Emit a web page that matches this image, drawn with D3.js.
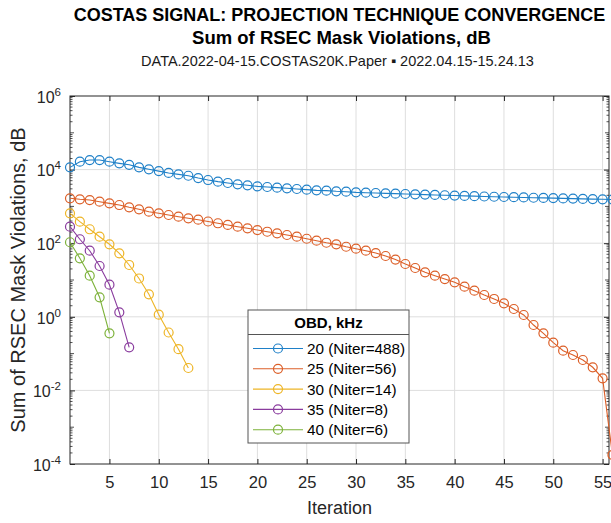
<!DOCTYPE html>
<html><head><meta charset="utf-8">
<script src="https://cdn.jsdelivr.net/npm/d3@7"></script>
<style>
html,body{margin:0;padding:0;background:#fff;}
svg{display:block;font-family:"Liberation Sans",Arial,sans-serif;}
</style></head>
<body><svg id="chart" width="611" height="523"></svg>
<script>
// ---------- data ----------
const seriesNames = ["20 (Niter=488)","25 (Niter=56)","30 (Niter=14)","35 (Niter=8)","40 (Niter=6)"];
const seriesColors = ["#1f80c8","#dc5f28","#eeb526","#8a3c9e","#7db23a"];
const obd20 = [11500,16400,18200,18200,16400,14800,13500,11500,10200,9100,8100,7400,6800,5900,
  5210,4700,4330,3980,3740,3510,3370,3230,3100,2970,2850,2730,2680,2570,2510,2410,2360,2310,2260,2220,
  2170,2130,2090,2050,2010,1970,1930,1900,1860,1830,1800,1780,1750,1720,1700,1680,1650,1630,1600,1580,1560,1540];
const obd25 = [1660,1560,1490,1340,1210,1090,946,834,718,650,584,525,475,435,389,348,313,281,254,228,
  205,186,167,150,132,117,103,93,80,71,62.5,54,44.9,36,27.2,21.2,16.2,13.1,10.6,8.66,
  6.58,5.12,3.91,3.05,2.33,1.63,1.12,0.598,0.356,0.198,0.120,0.0916,0.067,0.0425,0.0213,0.000176];
const obd30 = [649,384,239,150,93.4,53.2,25.6,11.0,4.08,1.14,0.374,0.132,0.0406];
const obd35 = [281,128,62.5,24,7.45,1.32,0.148];
const obd40 = [106,38.9,13.1,3.39,0.356];
const allSeries = [obd20, obd25, obd30, obd35, obd40];
const xTicks = [5,10,15,20,25,30,35,40,45,50,55];
const yTickExps = [-4,-2,0,2,4,6];
const titleLines = ["COSTAS SIGNAL: PROJECTION TECHNIQUE CONVERGENCE","Sum of RSEC Mask Violations, dB","DATA.2022-04-15.COSTAS20K.Paper \u25AA 2022.04.15-15.24.13"];
const xLabel = "Iteration";
const yLabel = "Sum of RSEC Mask Violations, dB";
const legendTitle = "OBD, kHz";

// ---------- layout ----------
const L = 70, R = 609, T = 96, B = 464;
const axisColor = "#262626";
const svg = d3.select("#chart");

const x = d3.scaleLinear().domain([1, 55.65]).range([L, R]);
const y = d3.scaleLog().domain([1e-4, 1e6]).range([B, T]);

// grid
const grid = svg.append("g").attr("stroke","#dedede").attr("stroke-width",1);
grid.selectAll("line.v").data(xTicks).join("line")
  .attr("x1",d=>x(d)).attr("x2",d=>x(d)).attr("y1",T).attr("y2",B);
grid.selectAll("line.h").data(yTickExps.filter(e=>e>-4&&e<6)).join("line")
  .attr("y1",d=>y(Math.pow(10,d))).attr("y2",d=>y(Math.pow(10,d))).attr("x1",L).attr("x2",R);

// minor y ticks
const minorVals = [];
for (let e=-4; e<6; e++) for (let k=1;k<=9;k++){ const v=k*Math.pow(10,e); if(!(k===1 && e%2===0)) minorVals.push(v); }
const minorG = svg.append("g").attr("stroke",axisColor).attr("stroke-width",0.8);
minorVals.forEach(v=>{
  const len = (v===Math.pow(10,Math.round(Math.log10(v)))) ? 4 : 2.5;
  minorG.append("line").attr("x1",L).attr("x2",L+len).attr("y1",y(v)).attr("y2",y(v));
  minorG.append("line").attr("x1",R).attr("x2",R-len).attr("y1",y(v)).attr("y2",y(v));
});

// axes
const fmtSup = sel => {
  sel.selectAll(".tick text").each(function(d){
    const t = d3.select(this);
    const e = Math.round(Math.log10(d));
    t.text("");
    t.append("tspan").text("10").attr("font-size",16);
    t.append("tspan").text(e).attr("font-size",11.5).attr("dy","-0.6em");
  });
};
const yAxis = svg.append("g").attr("transform",`translate(${L},0)`)
  .call(d3.axisLeft(y).tickValues(yTickExps.map(e=>Math.pow(10,e))).tickSize(-5).tickPadding(9));
fmtSup(yAxis);
yAxis.selectAll(".tick text").attr("dy","0.62em").attr("fill",axisColor);
const yAxisR = svg.append("g").attr("transform",`translate(${R},0)`)
  .call(d3.axisRight(y).tickValues(yTickExps.map(e=>Math.pow(10,e))).tickSize(-5).tickFormat(""));
const xAxis = svg.append("g").attr("transform",`translate(0,${B})`)
  .call(d3.axisBottom(x).tickValues(xTicks).tickSize(-5).tickPadding(12));
xAxis.selectAll(".tick text").attr("font-size",16.5).attr("fill",axisColor);
const xAxisT = svg.append("g").attr("transform",`translate(0,${T})`)
  .call(d3.axisTop(x).tickValues(xTicks).tickSize(-5).tickFormat(""));
[yAxis,yAxisR,xAxis,xAxisT].forEach(g=>{
  g.select(".domain").attr("stroke",axisColor).attr("d", null);
  g.selectAll(".tick line").attr("stroke",axisColor);
  g.attr("font-family",null);
});
svg.append("rect").attr("x",L).attr("y",T).attr("width",R-L).attr("height",B-T)
  .attr("fill","none").attr("stroke",axisColor).attr("stroke-width",1);

// series
const line = d3.line().x((d,i)=>x(i+1)).y(d=>y(d));
allSeries.forEach((s,si)=>{
  const g = svg.append("g");
  g.append("path").attr("d",line(s)).attr("fill","none")
    .attr("stroke",seriesColors[si]).attr("stroke-width",1.1);
  g.selectAll("circle").data(s).join("circle")
    .attr("cx",(d,i)=>x(i+1)).attr("cy",d=>y(d)).attr("r",4.5)
    .attr("fill","none").attr("stroke",seriesColors[si]).attr("stroke-width",1.2);
});

// titles
const cx0 = (L+R)/2;
const titleG = svg.append("g").attr("fill","#000").attr("text-anchor","middle");
titleG.append("text").attr("x",cx0).attr("y",20.5).attr("font-size",18).attr("font-weight","bold").text(titleLines[0]);
titleG.append("text").attr("x",cx0+2).attr("y",43.5).attr("font-size",18.5).attr("font-weight","bold").text(titleLines[1]);
titleG.append("text").attr("x",cx0-2).attr("y",65.5).attr("font-size",14.5).attr("fill","#1a1a1a").text(titleLines[2]);

// axis labels
svg.append("text").attr("x",cx0).attr("y",514).attr("text-anchor","middle")
  .attr("font-size",18).attr("fill",axisColor).text(xLabel);
svg.append("text").attr("transform",`translate(24.5,${(T+B)/2}) rotate(-90)`).attr("text-anchor","middle")
  .attr("font-size",20).attr("fill",axisColor).text(yLabel);

// legend
const lg = svg.append("g");
const lx = 248, ly = 310, lw = 161, lh = 133;
lg.append("rect").attr("x",lx).attr("y",ly).attr("width",lw).attr("height",lh)
  .attr("fill","#fff").attr("stroke","#555").attr("stroke-width",1);
lg.append("line").attr("x1",lx).attr("x2",lx+lw).attr("y1",334.5).attr("y2",334.5).attr("stroke","#555");
lg.append("text").attr("x",lx+lw/2).attr("y",327.5).attr("text-anchor","middle")
  .attr("font-size",15).attr("font-weight","bold").attr("fill","#000").text(legendTitle);
seriesNames.forEach((n,i)=>{
  const cy = 348.5 + i*20.3;
  lg.append("line").attr("x1",253).attr("x2",303).attr("y1",cy).attr("y2",cy)
    .attr("stroke",seriesColors[i]).attr("stroke-width",1.1);
  lg.append("circle").attr("cx",278).attr("cy",cy).attr("r",4.5).attr("fill","none")
    .attr("stroke",seriesColors[i]).attr("stroke-width",1.2);
  lg.append("text").attr("x",307).attr("y",cy+5.5).attr("font-size",15.3).attr("fill","#000").text(n);
});
</script></body></html>
